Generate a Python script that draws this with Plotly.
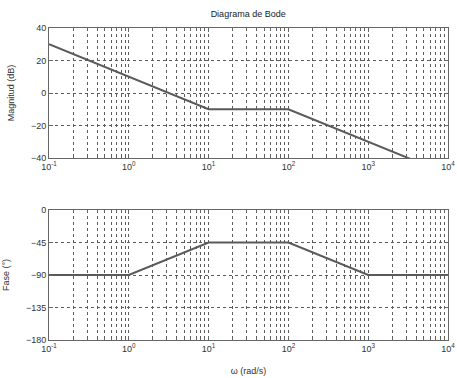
import plotly.graph_objects as go
from plotly.subplots import make_subplots

# Data
mag_freq = [0.1, 1, 10, 100, 1000, 10000]
mag_db = [30, 10, -10, -10, -30, -50]
phase_freq = [0.1, 1, 10, 100, 1000, 10000]
phase_deg = [-90, -90, -45, -45, -90, -90]

x_tickvals = [0.1, 1, 10, 100, 1000, 10000]
x_ticktext = ["10<sup>-1</sup>", "10<sup>0</sup>", "10<sup>1</sup>", "10<sup>2</sup>", "10<sup>3</sup>", "10<sup>4</sup>"]
mag_ticks = [-40, -20, 0, 20, 40]
phase_ticks = [-180, -135, -90, -45, 0]

line_color = "#5a5a5a"
grid_color = "#5c5c5c"
axis_color = "#666"
font = dict(family="Liberation Sans, Arial, sans-serif", size=9, color="#333")

fig = make_subplots(rows=2, cols=1, vertical_spacing=0.1667)

fig.add_trace(go.Scatter(x=mag_freq, y=mag_db, mode="lines",
                         line=dict(color=line_color, width=2), showlegend=False), row=1, col=1)
fig.add_trace(go.Scatter(x=phase_freq, y=phase_deg, mode="lines",
                         line=dict(color=line_color, width=2), showlegend=False), row=2, col=1)

xcommon = dict(type="log", range=[-1, 4], tickvals=x_tickvals, ticktext=x_ticktext,
               showline=True, mirror="ticks", linecolor=axis_color, linewidth=1,
               ticks="inside", ticklen=4, tickcolor=axis_color, automargin=False,
               showgrid=True, gridcolor=grid_color, gridwidth=0.7, griddash="dot",
               minor=dict(dtick="D1", showgrid=True, gridcolor=grid_color, gridwidth=0.7,
                          griddash="dot", ticks="inside", ticklen=2, tickcolor=axis_color),
               zeroline=False, tickfont=font)
ycommon = dict(showline=True, mirror="ticks", linecolor=axis_color, linewidth=1,
               ticks="inside", ticklen=4, tickcolor=axis_color, automargin=False,
               showgrid=True, gridcolor=grid_color, gridwidth=0.7, griddash="dot",
               zeroline=False, tickfont=font)

fig.update_xaxes(**xcommon, row=1, col=1)
fig.update_xaxes(**xcommon, row=2, col=1)
fig.update_xaxes(title=dict(text="ω (rad/s)", font=font, standoff=14), row=2, col=1)
fig.update_yaxes(**ycommon, range=[-40, 40], tickvals=mag_ticks,
                 title=dict(text="Magnitud (dB)", font=font, standoff=14), row=1, col=1)
fig.update_yaxes(**ycommon, range=[-180, 0], tickvals=phase_ticks,
                 title=dict(text="Fase (°)", font=font, standoff=14), row=2, col=1)

fig.update_layout(
    width=457, height=378,
    margin=dict(l=49, r=9, t=28, b=38, autoexpand=False),
    paper_bgcolor="white", plot_bgcolor="white",
    font=font,
    title=dict(text="Diagrama de Bode", x=0.543, xanchor="center", y=0.963, yanchor="middle",
               font=dict(family="Liberation Sans, Arial, sans-serif", size=9, color="#222")),
)

fig.write_html("out.html",
               config={"displayModeBar": False},
               post_script="document.body.style.margin='0';document.body.style.overflow='hidden';")
